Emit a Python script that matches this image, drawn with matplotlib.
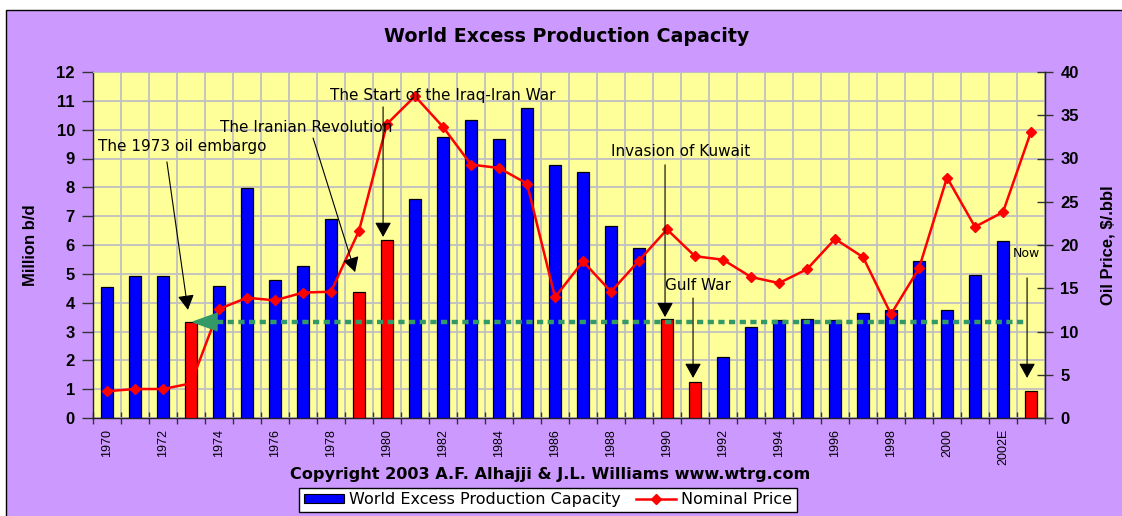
import matplotlib
matplotlib.use('Agg')
import matplotlib.pyplot as plt
from matplotlib.patches import Rectangle, Polygon, Patch
from matplotlib.lines import Line2D
import numpy as np

# ---------------- data ----------------
years = list(range(1970, 2004))
capacity = [4.55, 4.92, 4.92, 3.32, 4.59, 7.97, 4.79, 5.28, 6.91, 4.38,
            6.17, 7.60, 9.76, 10.33, 9.68, 10.74, 8.78, 8.54, 6.67, 5.88,
            3.45, 1.25, 2.10, 3.16, 3.40, 3.45, 3.40, 3.63, 3.73, 5.43,
            3.73, 4.95, 6.14, 0.95]
price = [3.1, 3.35, 3.35, 4.0, 12.6, 13.9, 13.6, 14.5, 14.6, 21.65,
         34.0, 37.2, 33.65, 29.3, 28.9, 27.1, 13.96, 18.1, 14.6, 18.2,
         21.8, 18.7, 18.3, 16.3, 15.6, 17.2, 20.7, 18.6, 12.0, 17.3,
         27.8, 22.1, 23.8, 33.1]
event_years = [1973, 1979, 1980, 1990, 1991, 2003]
tick_years = list(range(1970, 2003, 2))
tick_labels = [str(y) for y in tick_years[:-1]] + ['2002E']
threshold_level = 3.33
threshold_start_year = 1974
threshold_end_year = 2003

annotations = [
    # text, text (year, value), arrow start (year, value), arrow tip (year, value)
    ("The 1973 oil embargo", (1969.68, 9.40), (1972.14, 8.88), (1972.89, 3.75)),
    ("The Iranian Revolution", (1974.04, 10.09), (1977.36, 9.71), (1978.86, 5.06)),
    ("The Start of the Iraq-Iran War", (1977.96, 11.20), (1979.86, 10.79), (1979.86, 6.28)),
    ("Invasion of Kuwait", (1988.0, 9.26), (1989.93, 8.78), (1989.93, 3.50)),
    ("Gulf War", (1989.93, 4.61), (1990.93, 4.16), (1990.93, 1.39)),
]
now_note = ("Now", (2002.82, 5.69), (2002.86, 4.86), (2002.86, 1.39))

# ---------------- style ----------------
PURPLE = '#CC99FF'
YELLOW = '#FFFF99'
GRID = '#C0C0C0'
BLUE = '#0000FF'
RED = '#FF0000'
GREEN = '#339966'
NUMFONT = ['Liberation Sans', 'DejaVu Sans']
TXTFONT = ['DejaVu Sans']

W, H = 1122, 516
fig = plt.figure(figsize=(W / 100, H / 100), dpi=100, facecolor='white')

# purple chart background with black top/left border
bg = Rectangle((6 / W, -0.2), 1.2, 1 - 10 / H + 0.2, transform=fig.transFigure,
               facecolor=PURPLE, edgecolor='black', linewidth=1.0, zorder=-10)
fig.patches.append(bg)

left, right, top, bottom = 93, 1045, 72, 418
ax = fig.add_axes([left / W, 1 - bottom / H, (right - left) / W, (bottom - top) / H])
ax.set_facecolor(YELLOW)

x = np.arange(len(years))
colors = [RED if y in event_years else BLUE for y in years]
ax.bar(x, capacity, width=0.46, color=colors, edgecolor='black', linewidth=0.9, zorder=3)

ax.set_xlim(-0.5, len(years) - 0.5)
ax.set_ylim(0, 12)
ax.set_yticks(range(0, 13))
ax.set_xticks([years.index(y) for y in tick_years])
ax.set_xticklabels(tick_labels, rotation=90, family=NUMFONT, fontsize=9)
ax.set_xticks(np.arange(-0.5, len(years), 1.0), minor=True)
ax.tick_params(axis='x', which='major', length=0, pad=8)
ax.tick_params(axis='x', which='minor', length=8, direction='inout', width=1, color='#333333')
ax.tick_params(axis='y', which='major', length=8, direction='out', width=1, pad=5, color='#333333')
for lbl in ax.get_yticklabels():
    lbl.set_family(NUMFONT)
    lbl.set_fontsize(12)
    lbl.set_fontweight('bold')

ax.set_axisbelow(True)
ax.grid(True, which='minor', axis='x', color=GRID, linewidth=1.3)
ax.grid(True, which='major', axis='y', color=GRID, linewidth=1.3)
for s in ['left', 'bottom', 'right']:
    ax.spines[s].set_color('#222222')
    ax.spines[s].set_linewidth(1.0)
ax.spines['top'].set_color(GRID)

ax.set_ylabel('Million b/d', family=NUMFONT, fontsize=12, fontweight='bold')
ax.yaxis.set_label_coords(-0.058, 0.5)

# secondary axis: price
ax2 = ax.twinx()
ax2.set_ylim(0, 40)
ax2.set_yticks(range(0, 41, 5))
ax2.tick_params(axis='y', length=12, direction='inout', width=1, pad=5, color='#333333')
for lbl in ax2.get_yticklabels():
    lbl.set_family(NUMFONT)
    lbl.set_fontsize(12)
    lbl.set_fontweight('bold')
for s in ['top', 'left', 'bottom']:
    ax2.spines[s].set_visible(False)
ax2.spines['right'].set_color('#222222')
ax2.set_ylabel('Oil Price, $/.bbl', family=NUMFONT, fontsize=12, fontweight='bold')
ax2.yaxis.set_label_coords(1.058, 0.5)

ax2.plot(x, price, color=RED, linewidth=1.8, marker='D', markersize=5.5,
         markerfacecolor=RED, markeredgecolor=RED, zorder=5)

# green dotted threshold line with left-pointing triangle
xs = years.index(threshold_start_year) - 0.07
xe = years.index(threshold_end_year) - 0.14
ax2.plot([xs, xe], [threshold_level, threshold_level], transform=ax.transData,
         color=GREEN, linewidth=3.2, dashes=(1.4, 1.0), solid_capstyle='butt',
         dash_capstyle='butt', zorder=4)
tri = Polygon([[xs - 0.86, threshold_level], [xs, threshold_level + 0.30],
               [xs, threshold_level - 0.30]], closed=True, facecolor=GREEN,
              edgecolor=GREEN, transform=ax.transData, zorder=6)
ax2.add_patch(tri)

# annotations with arrows
def yr(v):
    return v - years[0]

arrow_kw = dict(arrowstyle='-|>,head_length=0.9,head_width=0.5', color='black',
                linewidth=0.8, shrinkA=0, shrinkB=0, mutation_scale=10)
for text, tpos, a0, a1 in annotations:
    ax2.text(yr(tpos[0]), tpos[1], text, transform=ax.transData, family=TXTFONT,
             fontsize=11, ha='left', va='center', color='black', zorder=7)
    ax2.annotate('', xy=(yr(a1[0]), a1[1]), xytext=(yr(a0[0]), a0[1]),
                 xycoords=ax.transData, textcoords=ax.transData,
                 arrowprops=arrow_kw, zorder=7)
text, tpos, a0, a1 = now_note
ax2.text(yr(tpos[0]), tpos[1], text, transform=ax.transData, family=TXTFONT,
         fontsize=9, ha='center', va='center', color='black', zorder=7)
ax2.annotate('', xy=(yr(a1[0]), a1[1]), xytext=(yr(a0[0]), a0[1]),
             xycoords=ax.transData, textcoords=ax.transData,
             arrowprops=arrow_kw, zorder=7)

# title, copyright, legend
fig.text(567 / W, 1 - 36 / H, 'World Excess Production Capacity', family=TXTFONT,
         fontsize=13.7, fontweight='bold', ha='center', va='center')
fig.text(550 / W, 1 - 474 / H, 'Copyright 2003 A.F. Alhajji & J.L. Williams www.wtrg.com',
         family=TXTFONT, fontsize=11.6, fontweight='bold', ha='center', va='center')

handles = [Patch(facecolor=BLUE, edgecolor='black', linewidth=0.8),
           Line2D([0], [0], color=RED, linewidth=1.8, marker='D', markersize=5.5)]
leg = fig.legend(handles, ['World Excess Production Capacity', 'Nominal Price'],
                 loc='center', bbox_to_anchor=(548 / W, 1 - 500 / H), ncol=2,
                 frameon=True, fancybox=False, framealpha=1, edgecolor='black',
                 prop={'family': TXTFONT, 'size': 11.5}, handlelength=2.5,
                 handleheight=0.5, handletextpad=0.3, columnspacing=1.0,
                 borderpad=0.3, borderaxespad=0)
leg.get_frame().set_linewidth(1.0)

fig.savefig('out.png', dpi=100, facecolor='white')
